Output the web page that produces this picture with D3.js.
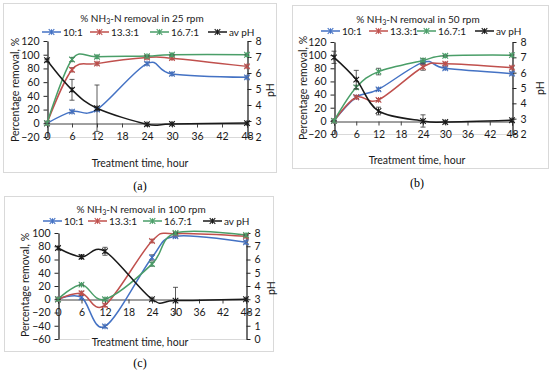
<!DOCTYPE html>
<html>
<head>
<meta charset="utf-8">
<script src="https://cdn.jsdelivr.net/npm/d3@7"></script>
<style>
  body { margin: 0; background: #fff; }
  svg { display: block; font-family: Lato, "Open Sans", sans-serif; }
</style>
</head>
<body>
<svg id="fig" width="550" height="376"></svg>
<script>
// sampling times (hours)
var hours = [0, 6, 12, 24, 30, 48];
var xTicks = [0, 6, 12, 18, 24, 30, 36, 42, 48];
var seriesNames = ["10:1", "13.3:1", "16.7:1", "av pH"];
var seriesColors = ["#4472c4", "#c0504d", "#4a9e68", "#1a1a1a"];

// (a) 25 rpm
var r25_10 = [0, 17, 20, 87, 72, 67];
var r25_13 = [0, 78, 87, 96, 95, 83];
var r25_16 = [0, 93, 97, 98, 100, 100];
var r25_pH = [6.8, 4.95, 3.8, 2.8, 2.82, 2.87];
var r25_err10 = [0, 2, 2, 2, 2, 2];
var r25_err13 = [0, 3, 2, 2, 2, 2];
var r25_err16 = [0, 3, 2, 1, 1, 1];
var r25_errPH = [0.05, 0.65, 1.45, 0.05, 0.05, 0.05];

// (b) 50 rpm
var r50_10 = [0, 36, 48, 89, 80, 72];
var r50_13 = [0, 36, 32, 82, 87, 81];
var r50_16 = [0, 51, 75, 92, 99, 100];
var r50_pH = [7.0, 5.55, 3.5, 2.85, 2.78, 2.9];
var r50_err10 = [0, 2, 2, 3, 2, 2];
var r50_err13 = [0, 2, 2, 5, 2, 2];
var r50_err16 = [0, 3, 5, 3, 1, 1];
var r50_errPH = [0.4, 0.6, 0.25, 0.4, 0.05, 0.05];

// (c) 100 rpm
var r100_10 = [0, 3, -41, 63, 95, 86];
var r100_13 = [0, 9, -9, 88, 99, 95];
var r100_16 = [0, 22, 0, 53, 100, 97];
var r100_pH = [6.87, 6.2, 6.62, 3.0, 2.9, 3.0];
var r100_err10 = [0, 3, 2, 4, 2, 2];
var r100_err13 = [0, 3, 2, 2, 1, 1];
var r100_err16 = [0, 1, 2, 3, 1, 1];
var r100_errPH = [0.1, 0.15, 0.3, 0.05, 1.0, 0.05];

var panels = [
  { tag: "(a)", rpm: "25", vals: [r25_10, r25_13, r25_16, r25_pH],
    errs: [r25_err10, r25_err13, r25_err16, r25_errPH],
    yDom: [-20, 120], yTicks: d3.range(-20, 121, 20), pDom: [2, 8], pTicks: d3.range(2, 9, 1),
    frame: [3, 3, 276, 172], plot: { l: 47, r: 247, t: 41, b: 137 },
    titleX: 142, titleY: 18, legY: 32, legX: [42, 90, 150, 208],
    yLab: [15, 90], pLab: [270, 90], xLab: [140, 163], tagPos: [140, 186] },
  { tag: "(b)", rpm: "50", vals: [r50_10, r50_13, r50_16, r50_pH],
    errs: [r50_err10, r50_err13, r50_err16, r50_errPH],
    yDom: [-20, 120], yTicks: d3.range(-20, 121, 20), pDom: [2, 8], pTicks: d3.range(2, 9, 1),
    frame: [292, 5, 548, 168], plot: { l: 334, r: 512, t: 42, b: 134 },
    titleX: 418, titleY: 19, legY: 31, legX: [321, 369, 417, 475],
    yLab: [303, 88], pLab: [540, 88], xLab: [417, 160], tagPos: [417, 183] },
  { tag: "(c)", rpm: "100", vals: [r100_10, r100_13, r100_16, r100_pH],
    errs: [r100_err10, r100_err13, r100_err16, r100_errPH],
    yDom: [-60, 100], yTicks: d3.range(-60, 101, 20), pDom: [0, 8], pTicks: d3.range(0, 9, 1),
    frame: [4, 196, 273, 351], plot: { l: 58, r: 246, t: 233, b: 339 },
    titleX: 141, titleY: 209, legY: 221, legX: [43, 88, 143, 203],
    yLab: [25, 285], pLab: [271, 288], xLab: [140, 342], tagPos: [140, 363] }
];

var svg = d3.select("#fig");
var ink = "#1a1a1a";

function star(g, x, y, col) {
  var s = 2.8;
  g.append("path")
    .attr("d", "M" + (x - s) + "," + (y - s) + "L" + (x + s) + "," + (y + s) +
               "M" + (x - s) + "," + (y + s) + "L" + (x + s) + "," + (y - s) +
               "M" + x + "," + (y - s) + "L" + x + "," + (y + s))
    .attr("stroke", col).attr("stroke-width", 1.1).attr("fill", "none");
}

panels.forEach(function(p) {
  var g = svg.append("g");
  var f = p.frame;
  g.append("rect").attr("x", f[0] + 0.5).attr("y", f[1] + 0.5)
    .attr("width", f[2] - f[0]).attr("height", f[3] - f[1])
    .attr("fill", "#fff").attr("stroke", "#d9d9d9");

  var x = d3.scaleLinear().domain([0, 48]).range([p.plot.l, p.plot.r]);
  var y = d3.scaleLinear().domain(p.yDom).range([p.plot.b, p.plot.t]);
  var yp = d3.scaleLinear().domain(p.pDom).range([p.plot.b, p.plot.t]);

  // bottom edge of plot area
  g.append("line").attr("x1", p.plot.l).attr("x2", p.plot.r)
    .attr("y1", p.plot.b + 0.5).attr("y2", p.plot.b + 0.5)
    .attr("stroke", "#d9d9d9");

  // x axis through zero
  var xa = g.append("g").attr("transform", "translate(0," + (Math.round(y(0)) + 0.5) + ")")
    .call(d3.axisBottom(x).tickValues(xTicks).tickSize(4).tickPadding(5));
  xa.select(".domain").attr("stroke", "#404040");
  xa.selectAll("line").attr("stroke", "#404040");
  xa.selectAll("text").attr("font-size", 10.5).attr("fill", ink)
    .attr("font-family", "Lato, sans-serif");

  var ya = g.append("g").attr("transform", "translate(" + (p.plot.l + 0.5) + ",0)")
    .call(d3.axisLeft(y).tickValues(p.yTicks).tickSize(4).tickSizeOuter(0).tickPadding(4));
  var pa = g.append("g").attr("transform", "translate(" + (p.plot.r + 0.5) + ",0)")
    .call(d3.axisRight(yp).tickValues(p.pTicks).tickFormat(d3.format("d"))
      .tickSize(4).tickSizeOuter(0).tickPadding(4));
  [ya, pa].forEach(function(a) {
    a.select(".domain").attr("stroke", "#262626").attr("stroke-width", 1.3);
    a.selectAll("line").attr("stroke", "#262626");
    a.selectAll("text").attr("font-size", 10.5).attr("fill", ink)
      .attr("font-family", "Lato, sans-serif");
  });

  var line = d3.line().curve(d3.curveCardinal.tension(0));

  p.vals.forEach(function(vals, si) {
    var sc = si === 3 ? yp : y;
    var col = seriesColors[si];
    var pts = hours.map(function(h, i) { return [x(h), sc(vals[i])]; });
    g.append("path").attr("d", line(pts)).attr("fill", "none")
      .attr("stroke", col).attr("stroke-width", 1.5);
    hours.forEach(function(h, i) {
      var e = p.errs[si][i];
      var cx = x(h), y1 = sc(vals[i] - e), y2 = sc(vals[i] + e);
      g.append("path")
        .attr("d", "M" + cx + "," + y1 + "V" + y2 +
                   "M" + (cx - 2.5) + "," + y1 + "h5M" + (cx - 2.5) + "," + y2 + "h5")
        .attr("stroke", si === 3 ? "#333" : "#404040").attr("stroke-width", 0.8).attr("fill", "none");
      star(g, cx, sc(vals[i]), col);
    });
  });

  // title
  var t = g.append("text").attr("x", p.titleX).attr("y", p.titleY + 3.5)
    .attr("text-anchor", "middle").attr("font-size", 10).attr("fill", ink);
  t.append("tspan").text("% NH");
  t.append("tspan").text("3").attr("font-size", 7).attr("dy", 2.5);
  t.append("tspan").text("-N removal in " + p.rpm + " rpm").attr("dy", -2.5);

  // legend
  seriesNames.forEach(function(n, si) {
    var lx = p.legX[si];
    g.append("line").attr("x1", lx).attr("x2", lx + 19)
      .attr("y1", p.legY).attr("y2", p.legY)
      .attr("stroke", seriesColors[si]).attr("stroke-width", 1.5);
    star(g, lx + 9.5, p.legY, seriesColors[si]);
    g.append("text").attr("x", lx + 21).attr("y", p.legY + 3.5)
      .attr("font-size", 10).attr("fill", ink).text(n);
  });

  g.append("text").attr("transform", "translate(" + p.yLab[0] + "," + p.yLab[1] + ") rotate(-90)")
    .attr("text-anchor", "middle").attr("dy", "0.35em").attr("font-size", 10.5).attr("fill", ink)
    .text("Percentage removal, %");
  g.append("text").attr("transform", "translate(" + p.pLab[0] + "," + p.pLab[1] + ") rotate(-90)")
    .attr("text-anchor", "middle").attr("dy", "0.35em").attr("font-size", 10.5).attr("fill", ink)
    .text("pH");

  // x axis title (panel c: sits on the plot bottom edge with a white box)
  var xlBox = g.append("rect").attr("fill", "#fff");
  var xl = g.append("text").attr("x", p.xLab[0]).attr("y", p.xLab[1]).attr("dy", "0.35em")
    .attr("text-anchor", "middle").attr("font-size", 10.5).attr("fill", ink)
    .text("Treatment time, hour");
  var bb = xl.node().getBBox();
  xlBox.attr("x", bb.x - 2).attr("y", bb.y).attr("width", bb.width + 4).attr("height", bb.height);

  g.append("text").attr("x", p.tagPos[0]).attr("y", p.tagPos[1]).attr("dy", "0.35em")
    .attr("text-anchor", "middle").attr("font-size", 12)
    .attr("font-family", "'Liberation Serif', serif").attr("fill", "#000")
    .text(p.tag);
});
</script>
</body>
</html>
